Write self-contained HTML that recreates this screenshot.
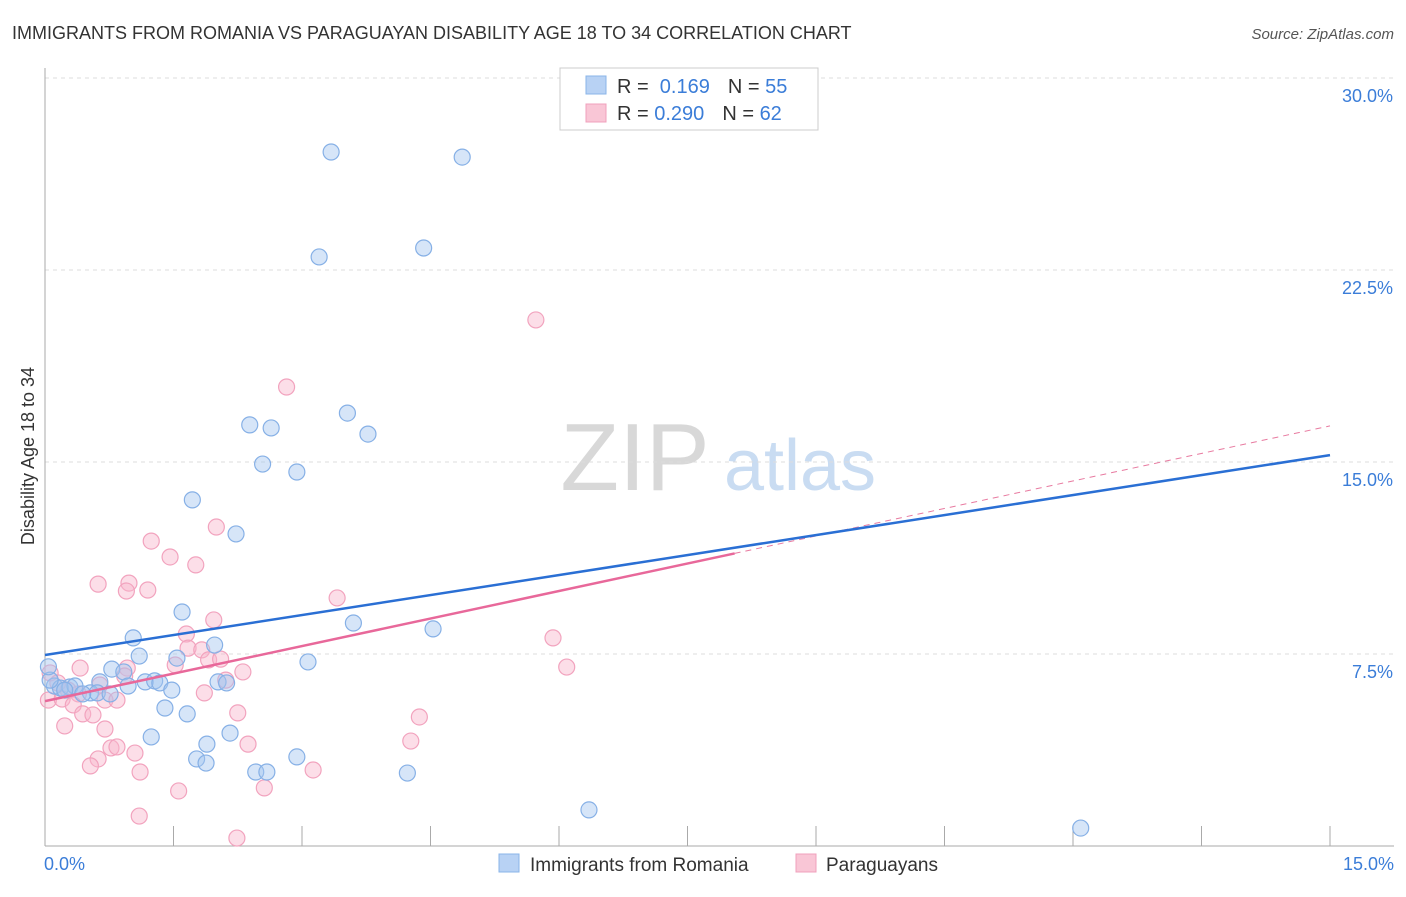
<!DOCTYPE html>
<html><head><meta charset="utf-8"><style>
body{margin:0;background:#fff;font-family:"Liberation Sans",sans-serif}
svg text{font-family:"Liberation Sans",sans-serif}
</style></head><body>
<svg id="chart" width="1406" height="892">
<text x="12" y="39" font-size="18" fill="#333">IMMIGRANTS FROM ROMANIA VS PARAGUAYAN DISABILITY AGE 18 TO 34 CORRELATION CHART</text>
<text x="1394" y="39" font-size="15" fill="#555" font-style="italic" text-anchor="end">Source: ZipAtlas.com</text>
<g>
<text x="635" y="490" font-size="96" fill="#d8d8d8" font-family="Liberation Serif" text-anchor="middle">ZIP</text>
<text x="800" y="490" font-size="72" fill="#c9dcf2" text-anchor="middle">atlas</text>
</g>
<g id="grid"></g>
<g id="axes"></g>
<text transform="translate(34,456) rotate(-90)" font-size="18" fill="#333" text-anchor="middle">Disability Age 18 to 34</text>
<g id="marks"></g>
<g>
<rect x="560" y="68" width="258" height="62" fill="#fff" stroke="#ccc"/>
<rect x="586" y="76" width="20" height="18" fill="#b8d2f4" stroke="#8ab4e8"/>
<text x="617" y="93" font-size="20" fill="#333">R = <tspan fill="#3b7dd8">&#160;0.169</tspan><tspan dx="18" fill="#333">N = </tspan><tspan fill="#3b7dd8">55</tspan></text>
<rect x="586" y="104" width="20" height="18" fill="#f9c6d6" stroke="#f0a0bc"/>
<text x="617" y="120" font-size="20" fill="#333">R = <tspan fill="#3b7dd8">0.290</tspan><tspan dx="18" fill="#333">N = </tspan><tspan fill="#3b7dd8">62</tspan></text>
</g>
<g>
<rect x="499" y="854" width="20" height="18" fill="#b8d2f4" stroke="#8ab4e8"/>
<text x="530" y="871" font-size="19" fill="#333">Immigrants from Romania</text>
<rect x="796" y="854" width="20" height="18" fill="#f9c6d6" stroke="#f0a0bc"/>
<text x="826" y="871" font-size="19" fill="#333">Paraguayans</text>
</g>
</svg>
<script>
const xTicks=[0,1.5,3,4.5,6,7.5,9,10.5,12,13.5,15];
const yTicks=[7.5,15,22.5,30];
const yTickLabels=["7.5%","15.0%","22.5%","30.0%"];
const xEndLabels=["0.0%","15.0%"];
const blueX=[3.34,4.87,3.20,4.42,3.53,3.77,2.39,2.64,2.54,2.94,1.72,2.23,1.60,3.60,4.53,1.03,1.98,1.10,1.54,3.07,0.78,0.92,0.64,0.97,1.17,1.28,1.34,1.48,2.02,2.12,0.11,0.18,0.29,0.35,0.53,0.61,0.76,1.40,1.66,1.24,1.89,2.16,1.77,1.88,2.94,2.46,2.59,4.23,6.35,12.09,0.06,0.23,0.44,0.04];
const blueY=[27.11,26.91,23.01,23.36,16.91,16.09,16.45,16.33,14.92,14.61,13.52,12.19,9.14,8.71,8.48,8.13,7.85,7.42,7.34,7.19,6.91,6.80,6.41,6.25,6.41,6.45,6.37,6.09,6.41,6.37,6.25,6.17,6.21,6.25,5.98,5.98,5.94,5.39,5.16,4.26,3.98,4.41,3.40,3.24,3.48,2.89,2.89,2.85,1.41,0.70,6.48,6.09,5.94,7.00];
const pinkX=[5.73,2.82,2.00,1.24,1.46,1.76,0.62,0.98,0.95,1.20,3.41,1.97,1.65,5.93,1.67,1.83,1.91,2.05,2.31,1.52,6.09,0.41,0.96,0.93,0.06,0.15,0.64,0.27,0.39,0.70,0.84,1.86,2.11,0.04,0.20,0.33,0.44,0.56,2.25,4.37,0.23,0.70,4.27,2.37,0.77,0.84,1.05,0.62,0.53,1.11,3.13,2.56,1.56,1.10,2.24];
const pinkY=[20.55,17.93,12.46,11.91,11.29,10.98,10.23,10.27,9.96,10.00,9.69,8.83,8.28,8.13,7.73,7.66,7.27,7.30,6.80,7.07,6.99,6.95,6.95,6.64,6.76,6.37,6.29,6.09,5.94,5.70,5.70,5.98,6.48,5.70,5.74,5.51,5.16,5.12,5.20,5.04,4.69,4.57,4.10,3.98,3.83,3.87,3.63,3.40,3.13,2.89,2.97,2.27,2.15,1.17,0.31];
const blueTrend=[7.46,15.27];
const pinkTrend=[5.66,16.41];
const pinkSolidEnd=8.05;
const X=v=>45+v/15*1285, Y=v=>846-v*25.6;
const NS="http://www.w3.org/2000/svg";
function mk(tag,attrs,parent){const e=document.createElementNS(NS,tag);for(const k in attrs)e.setAttribute(k,attrs[k]);document.getElementById(parent).appendChild(e);return e;}
yTicks.forEach((t,i)=>{
 const g=mk('line',{x1:45,x2:1394,y1:Y(t),y2:Y(t),stroke:'#ddd','stroke-dasharray':'4,4'},'grid');
 
 
 const l=mk('text',{x:1393,y:Y(t)+24,'font-size':18,fill:'#3b7dd8','text-anchor':'end'},'axes');
 l.textContent=yTickLabels[i];
 
 
});
const ax=mk('line',{x1:45,x2:45,y1:68,y2:846,stroke:'#aaa'},'axes');


const bx=mk('line',{x1:45,x2:1394,y1:846,y2:846,stroke:'#aaa'},'axes');


xTicks.forEach(t=>{
 const k=mk('line',{x1:X(t),x2:X(t),y1:826,y2:846,stroke:'#aaa'},'axes');
 
 
});
[[xEndLabels[0],44,'start'],[xEndLabels[1],1394,'end']].forEach(a=>{
 const l=mk('text',{x:a[1],y:870,'font-size':18,fill:'#3b7dd8','text-anchor':a[2]},'axes');
 l.textContent=a[0];
 
 
});
pinkX.forEach((v,i)=>{
 const c=mk('circle',{cx:X(v),cy:Y(pinkY[i]),r:8,fill:'rgba(248,182,204,0.45)',stroke:'#f2a3be','stroke-width':1.2},'marks');
 
 
});
blueX.forEach((v,i)=>{
 const c=mk('circle',{cx:X(v),cy:Y(blueY[i]),r:8,fill:'rgba(164,198,240,0.45)',stroke:'#86b0e6','stroke-width':1.2},'marks');
 
 
});
const pt=v=>pinkTrend[0]+(pinkTrend[1]-pinkTrend[0])*v/15;
const pd=mk('line',{x1:X(pinkSolidEnd),y1:Y(pt(pinkSolidEnd)),x2:X(15),y2:Y(pinkTrend[1]),stroke:'#e87aa0','stroke-width':1,'stroke-dasharray':'6,5'},'marks');


const ps=mk('line',{x1:X(0),y1:Y(pinkTrend[0]),x2:X(pinkSolidEnd),y2:Y(pt(pinkSolidEnd)),stroke:'#e8689a','stroke-width':2.5},'marks');


const bl=mk('line',{x1:X(0),y1:Y(blueTrend[0]),x2:X(15),y2:Y(blueTrend[1]),stroke:'#2a6fd4','stroke-width':2.5},'marks');


</script>
</body></html>
